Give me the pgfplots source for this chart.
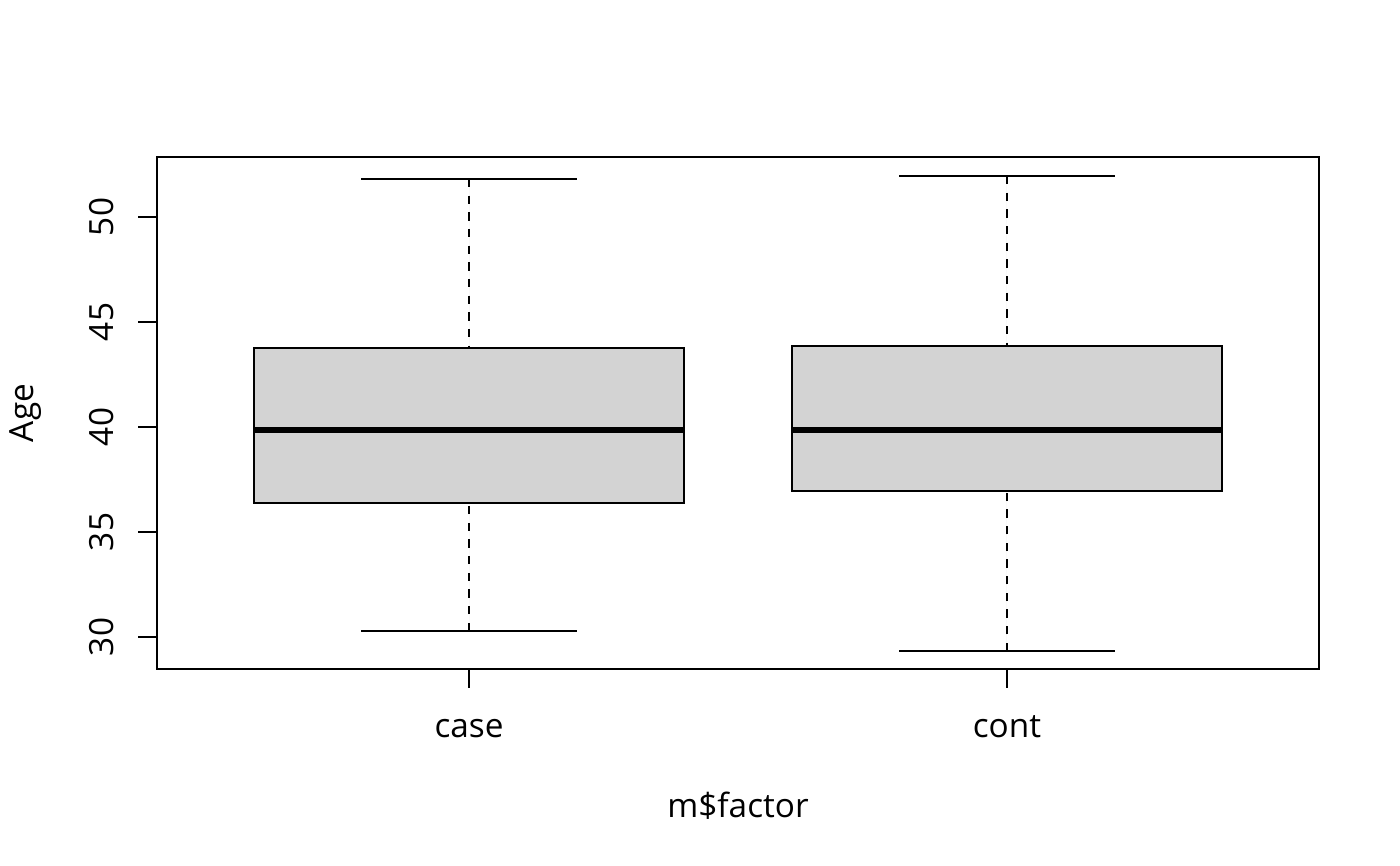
\documentclass[border=0pt]{standalone}
\usepackage{pgfplots}
\pgfplotsset{compat=1.18}
\usepgfplotslibrary{statistics}
\usepackage{fontspec}
\setmainfont{Open Sans}
\definecolor{boxgray}{HTML}{D3D3D3}
\begin{document}
\fontsize{12bp}{14bp}\selectfont
\begin{tikzpicture}
\path[use as bounding box] (0,0) rectangle (504bp,311.76bp);
\begin{axis}[
  at={(56.52bp,70.92bp)}, anchor=south west,
  scale only axis, width=418.32bp, height=184.32bp,
  xmin=0.42, xmax=2.58, ymin=28.476, ymax=52.857,
  xtick={1,2}, xticklabels={case,cont},
  ytick={30,35,40,45,50},
  tick align=outside, major tick length=6.8bp,
  tick style={black, line width=0.75bp},
  xtick pos=lower, ytick pos=left,
  minor tick num=0,
  axis line style={line width=0.75bp},
  /pgf/number format/assume math mode=true,
  font=\fontsize{12bp}{14bp}\selectfont,
  yticklabel style={rotate=90, anchor=south, inner sep=0pt},
  yticklabel shift=8.7bp,
  xticklabel style={anchor=base, inner sep=0pt},
  xticklabel shift=18bp,
  xlabel={m\$factor}, ylabel={Age},
  every axis x label/.style={at={(axis description cs:0.5,0)}, yshift=-53.3bp, anchor=base, inner sep=0pt},
  every axis y label/.style={at={(axis description cs:0,0.5)}, xshift=-44.6bp, rotate=90, anchor=base, inner sep=0pt},
  boxplot/draw direction=y,
  boxplot/box extend=0.8,
  boxplot/whisker extend=0.4,
  boxplot/every median/.style={line width=2.3bp},
  boxplot/draw/lower whisker/.code={
    \draw[dash pattern=on 3bp off 3bp]
      (boxplot box cs:\pgfplotsboxplotvalue{lower whisker},0.5) --
      (boxplot box cs:\pgfplotsboxplotvalue{lower quartile},0.5);
    \draw
      (boxplot whisker cs:\pgfplotsboxplotvalue{lower whisker},0) --
      (boxplot whisker cs:\pgfplotsboxplotvalue{lower whisker},1);
  },
  boxplot/draw/upper whisker/.code={
    \draw[dash pattern=on 3bp off 3bp]
      (boxplot box cs:\pgfplotsboxplotvalue{upper whisker},0.5) --
      (boxplot box cs:\pgfplotsboxplotvalue{upper quartile},0.5);
    \draw
      (boxplot whisker cs:\pgfplotsboxplotvalue{upper whisker},0) --
      (boxplot whisker cs:\pgfplotsboxplotvalue{upper whisker},1);
  },
]
\addplot[mark=none, draw=black, fill=boxgray, line width=0.75bp,
  boxplot prepared={draw position=1,
    lower whisker=30.29, lower quartile=36.38, median=39.86,
    upper quartile=43.76, upper whisker=51.81}] coordinates {};
\addplot[mark=none, draw=black, fill=boxgray, line width=0.75bp,
  boxplot prepared={draw position=2,
    lower whisker=29.33, lower quartile=36.95, median=39.86,
    upper quartile=43.86, upper whisker=51.95}] coordinates {};
\end{axis}
\end{tikzpicture}
\end{document}
